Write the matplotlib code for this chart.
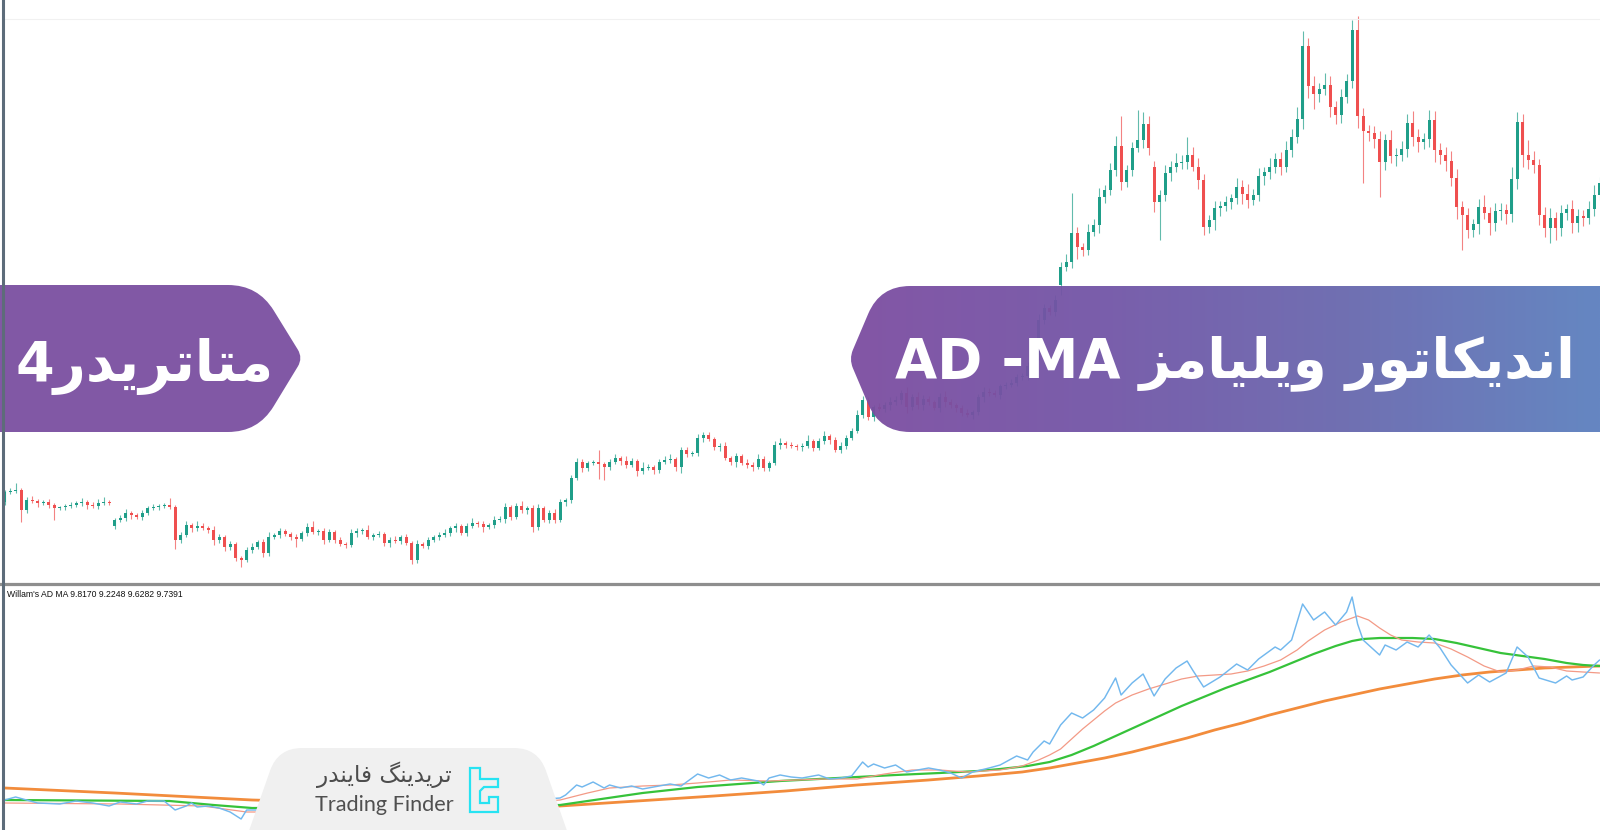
import numpy as np
import matplotlib
matplotlib.use("Agg")
import matplotlib.pyplot as plt
from matplotlib.path import Path
from matplotlib.patches import PathPatch
from matplotlib.lines import Line2D
from matplotlib import font_manager
from matplotlib.ft2font import FT2Font
from matplotlib.colors import LinearSegmentedColormap

W, H = 1600, 830

# ---------------- price data (arbitrary price units) ----------------
first_open = 98
gap_opens = {20: 74, 192: 315, 209: 433}
closes = [
    108, 109, 110, 90, 100, 99, 97, 98, 95, 92, 93, 94, 95, 97, 98, 95, 94, 97, 98, 97,
    80, 82, 87, 85, 83, 87, 92, 93, 94, 95, 93, 60, 65, 75, 72, 74, 72, 70, 60, 63,
    53, 56, 42, 40, 50, 53, 58, 47, 63, 65, 69, 66, 63, 61, 67, 73, 68, 69, 60, 68,
    60, 56, 55, 67, 69, 70, 63, 65, 66, 57, 60, 59, 63, 57, 40, 56, 54, 60, 63, 65,
    67, 72, 74, 67, 74, 77, 76, 73, 75, 80, 81, 93, 83, 94, 90, 92, 73, 92, 80, 87,
    80, 98, 100, 122, 138, 132, 137, 138, 136,
    133, 138, 142, 139, 135, 139, 129, 132, 133, 130, 138, 140, 141, 133, 150, 146, 147, 162, 165, 161, 153,
    154, 142, 138, 144, 137, 135, 133, 141, 132, 137, 155, 157, 155, 154, 153, 154, 159, 152, 159, 164,
    160, 150, 154, 162, 169, 185, 200,
    183, 193, 191, 195, 198, 200, 207, 193, 203, 195, 201, 198, 192, 203, 198, 195, 192, 187, 185, 188,
    203, 208, 207, 205, 214, 215, 217, 223, 224, 234, 245, 280, 292, 288, 300,
    333, 338, 367, 353, 350, 368, 375, 403, 410, 430,
    454, 418, 430, 452, 460, 476, 452, 398, 405, 427,
    433, 437, 438, 445, 433, 420, 373, 380, 392, 394,
    398, 402, 413, 406, 400, 405, 424, 428, 433, 441,
    433, 450, 463, 481, 554, 514, 506, 511, 515, 493,
    485, 503, 519, 570, 484, 469, 467, 461, 438, 460,
    444, 445, 451, 477, 463, 458, 461, 480, 450, 445,
    439, 422, 393, 385, 370, 376, 393, 387, 377, 389,
    390, 386, 421, 478, 445, 440, 435, 385, 372, 382,
    372, 387, 391, 377, 384, 382, 391, 405, 417,
]
upper_wick = [
    2, 3, 7, 2, 3, 4, 2, 2, 3, 2, 1, 2, 3, 2, 4, 2, 3, 4, 5, 2,
    2, 3, 4, 2, 2, 3, 2, 3, 2, 2, 7, 2, 3, 4, 2, 5, 3, 2, 4, 3,
    2, 3, 2, 2, 3, 4, 2, 3, 5, 2, 3, 2, 2, 3, 2, 4, 6, 2, 3, 3,
    2, 3, 2, 4, 3, 2, 5, 2, 3, 2, 3, 4, 2, 3, 2, 4, 2, 3, 2, 3,
    4, 2, 3, 2, 3, 5, 2, 3, 2, 4, 3, 4, 2, 3, 5, 2, 3, 4, 2, 3,
    4, 3, 2, 3, 4, 3, 2, 2, 12,
    2, 3, 4, 2, 5, 3, 2, 6, 3, 2, 3, 4, 5, 2, 3, 3, 2, 4, 3, 3, 2,
    3, 4, 2, 3, 2, 4, 3, 5, 3, 2, 4, 5, 2, 3, 2, 3, 6, 2, 3, 5, 2, 3, 4, 3, 3, 5, 4,
    3, 2, 4, 3, 5, 4, 3, 6, 3, 5, 4, 3, 2, 4, 6, 3, 2, 3, 4, 2,
    3, 5, 4, 3, 2, 3, 4, 3, 3, 4, 3, 6, 4, 3, 5,
    5, 8, 40, 6, 4, 8, 6, 9, 5, 7,
    10, 30, 5, 6, 30, 12, 8, 6, 5, 8,
    6, 10, 7, 18, 8, 9, 6, 5, 7, 5,
    6, 4, 9, 7, 10, 6, 8, 5, 9, 6,
    7, 9, 8, 12, 15, 8, 10, 6, 12, 9,
    6, 8, 7, 10, 14, 8, 6, 7, 8, 6,
    10, 7, 8, 9, 12, 8, 6, 10, 9, 7,
    8, 10, 9, 6, 7, 5, 8, 12, 6, 8,
    7, 6, 12, 10, 8, 15, 9, 6, 8, 10,
    6, 8, 5, 9, 7, 6, 8, 10, 6,
]
lower_wick = [
    3, 2, 2, 12, 3, 2, 4, 2, 3, 12, 2, 3, 2, 2, 3, 4, 2, 3, 2, 2,
    3, 2, 3, 4, 2, 3, 2, 2, 3, 2, 2, 9, 3, 2, 4, 3, 2, 3, 5, 3,
    4, 3, 3, 7, 2, 3, 2, 4, 3, 2, 3, 2, 3, 8, 2, 3, 2, 3, 4, 2,
    3, 2, 3, 2, 4, 3, 2, 3, 2, 3, 4, 2, 3, 2, 4, 3, 2, 3, 2, 3,
    2, 3, 4, 2, 3, 2, 3, 5, 2, 3, 2, 4, 3, 2, 3, 4, 5, 3, 2, 3,
    3, 2, 4, 3, 2, 4, 3, 2, 15,
    13, 3, 2, 4, 3, 2, 5, 3, 2, 4, 3, 2, 3, 4, 6, 3, 2, 3, 4, 2, 3,
    4, 2, 3, 5, 2, 3, 4, 2, 3, 3, 2, 4, 3, 2, 3, 4, 2, 3, 2, 3, 4, 2, 3, 3, 2, 2, 3,
    3, 4, 2, 3, 5, 3, 4, 6, 3, 4, 5, 3, 2, 4, 5, 3, 4, 3, 2, 4,
    3, 5, 3, 2, 4, 3, 2, 3, 3, 4, 6, 5, 4, 3, 4,
    10, 4, 6, 12, 6, 5, 4, 8, 6, 5,
    6, 8, 5, 6, 4, 8, 7, 10, 38, 6,
    8, 5, 6, 7, 4, 9, 8, 6, 10, 8,
    5, 7, 6, 10, 8, 5, 6, 9, 7, 6,
    8, 5, 7, 6, 10, 12, 15, 8, 6, 10,
    9, 8, 6, 7, 12, 52, 8, 9, 35, 8,
    7, 10, 6, 8, 9, 10, 7, 8, 12, 9,
    10, 8, 12, 35, 8, 7, 10, 6, 12, 8,
    9, 10, 8, 10, 12, 9, 8, 10, 9, 15,
    12, 8, 7, 10, 9, 8, 6, 7, 5,
]

# ---------------- indicator data: (bar index, value) ----------------
ad_line = [(0, 30), (2, 33), (4, 30), (6, 27), (10, 26), (13, 29), (16, 27), (19, 24), (21, 28), (24, 26),
           (26, 29), (29, 29), (31, 20), (33, 24), (34, 27), (35, 23), (37, 24), (39, 22), (41, 18), (43, 11),
           (44, 20), (72, 20), (101, 32), (102, 35), (104, 45), (105, 43), (107, 48), (109, 42), (110, 45),
           (112, 42), (114, 44), (116, 41), (118, 43), (121, 46), (123, 44), (125, 52), (126, 56), (128, 52),
           (130, 55), (132, 50), (134, 52), (137, 49), (138, 45), (139, 52), (141, 55), (143, 53), (145, 52),
           (147, 54), (148, 55), (150, 51), (152, 52), (154, 54), (156, 68), (157, 63), (158, 66), (160, 62),
           (162, 65), (164, 58), (165, 59), (168, 62), (170, 60), (172, 57), (174, 52), (176, 58), (179, 62),
           (181, 65), (184, 74), (186, 70), (187, 78), (189, 89), (190, 86), (192, 105), (194, 117), (196, 112),
           (198, 120), (200, 132), (202, 152), (203, 135), (205, 147), (207, 156), (209, 134), (211, 151),
           (213, 162), (215, 169), (216, 160), (218, 143), (221, 153), (224, 166), (226, 160), (228, 171),
           (231, 183), (232, 180), (234, 190), (236, 226), (238, 210), (240, 218), (242, 205), (244, 218),
           (245, 233), (246, 206), (247, 190), (250, 175), (251, 185), (253, 180), (255, 188), (257, 183),
           (259, 195), (261, 182), (263, 165), (266, 147), (268, 155), (270, 148), (273, 157), (275, 183),
           (276, 178), (277, 173), (279, 152), (282, 147), (284, 154), (285, 150), (287, 153), (289, 165),
           (290, 170)]
ma_fast = [(0, 27), (21, 26), (36, 24), (44, 18), (72, 18), (101, 30), (106, 37), (110, 42), (116, 44),
           (121, 45), (126, 47), (132, 50), (139, 49), (149, 51), (155, 51), (160, 56), (165, 60), (170, 60),
           (175, 58), (181, 60), (185, 64), (188, 70), (190, 75), (192, 81), (194, 91), (196, 101), (198, 110),
           (200, 119), (202, 127), (205, 135), (208, 141), (211, 146), (214, 151), (217, 154), (220, 155),
           (223, 156), (226, 159), (229, 164), (232, 170), (235, 180), (237, 189), (240, 200), (243, 208),
           (246, 214), (248, 210), (250, 202), (252, 195), (254, 190), (257, 188), (260, 187), (263, 181),
           (266, 173), (269, 164), (272, 158), (275, 160), (278, 164), (281, 163), (284, 159), (287, 158),
           (290, 157)]
ma_mid = [(0, 30), (30, 29), (38, 25), (45, 22), (72, 22), (101, 25), (106, 29), (111, 33), (116, 37),
          (121, 40), (126, 43), (131, 45), (136, 47), (141, 49), (148, 51), (155, 53), (162, 55), (170, 57),
          (177, 59), (181, 61), (186, 64), (190, 68), (194, 75), (198, 84), (202, 94), (206, 104), (210, 114),
          (214, 124), (218, 133), (222, 142), (226, 150), (230, 158), (234, 167), (238, 176), (242, 184),
          (245, 189), (247, 191), (250, 192), (256, 192), (260, 191), (264, 187), (268, 182), (272, 177),
          (276, 174), (280, 171), (284, 167), (287, 165), (290, 164)]
ma_slow = [(0, 42), (20, 37), (45, 30), (72, 26), (101, 24), (115, 29), (129, 34), (142, 39), (155, 45),
           (168, 50), (177, 54), (185, 58), (190, 62), (195, 67), (200, 72), (205, 78), (210, 85), (215, 92),
           (220, 100), (225, 107), (230, 115), (235, 122), (240, 129), (245, 135), (250, 141), (255, 146),
           (260, 151), (265, 155), (270, 158), (275, 160), (280, 162), (285, 163), (290, 164)]

indicator_label = "Willam's AD MA 9.8170 9.2248 9.6282 9.7391"
title_persian = "اندیکاتور ویلیامز"
title_latin = "AD -MA"
badge_text = "متاتریدر4"
logo_persian = "تریدینگ فایندر"
logo_latin = "Trading Finder"

# ---------------- layout / style constants ----------------
X0, DX = 4.6, 5.5            # pixel position of bar 0 and bar spacing
PRICE_TOP = 600              # price level at the very top of the price pane
GREEN, RED = "#1f9e89", "#ef4f4f"

# ---------------- Persian shaping helpers ----------------
FORMS = {
    'ا': [(0xFE8D, 0xFE8E, None, None)],
    'د': [(0xFEA9, 0xFEAA, None, None)],
    'ر': [(0xFEAD, 0xFEAE, None, None)],
    'ز': [(0xFEAF, 0xFEB0, None, None)],
    'و': [(0xFEED, 0xFEEE, None, None)],
    'ت': [(0xFE95, 0xFE96, 0xFE97, 0xFE98)],
    'ن': [(0xFEE5, 0xFEE6, 0xFEE7, 0xFEE8)],
    'ل': [(0xFEDD, 0xFEDE, 0xFEDF, 0xFEE0)],
    'م': [(0xFEE1, 0xFEE2, 0xFEE3, 0xFEE4)],
    'ف': [(0xFED1, 0xFED2, 0xFED3, 0xFED4)],
    'ی': [(0xFBFC, 0xFBFD, 0xFBFE, 0xFBFF), (0xFEEF, 0xFEF0, 0xFEF3, 0xFEF4)],
    'ک': [(0xFB8E, 0xFB8F, 0xFB90, 0xFB91), (0xFED9, 0xFEDA, 0xFEDB, 0xFEDC)],
    'گ': [(0xFB92, 0xFB93, 0xFB94, 0xFB95), (0xFED9, 0xFEDA, 0xFEDB, 0xFEDC)],
}
DUAL = set('تنلمفیکگ')


def glyph_checker(prop):
    f = FT2Font(font_manager.findfont(prop))
    return lambda cp: f.get_char_index(cp) != 0


def shape_rtl(text, has):
    out = []
    for k, ch in enumerate(text):
        if ch not in FORMS:
            out.append(ch)
            continue
        forms = next((fs for fs in FORMS[ch] if all(has(c) for c in fs if c)), FORMS[ch][-1])
        prev = text[k - 1] if k > 0 else ''
        nxt = text[k + 1] if k + 1 < len(text) else ''
        cp = prev in DUAL
        cn = ch in DUAL and nxt in FORMS
        if cp and cn:
            f = forms[3]
        elif cp:
            f = forms[1]
        elif cn:
            f = forms[2]
        else:
            f = forms[0]
        out.append(chr(f) if (f and has(f)) else ch)
    return ''.join(reversed(out))


def pick_prop(weight):
    prop = font_manager.FontProperties(family='DejaVu Sans', weight=weight)
    has = glyph_checker(prop)
    if not all(has(c) for fs in FORMS.values() for c in fs[-1] if c):
        prop = font_manager.FontProperties(family='DejaVu Sans', weight='normal')
        has = glyph_checker(prop)
    return prop, has


def rounded_path(pts, radii):
    verts, codes = [], []
    n = len(pts)
    for k in range(n):
        p = np.array(pts[k], float)
        a = np.array(pts[k - 1], float)
        b = np.array(pts[(k + 1) % n], float)
        r = radii[k]
        if r <= 0:
            verts.append(p)
            codes.append(Path.LINETO)
        else:
            u1 = (a - p) / np.linalg.norm(a - p)
            u2 = (b - p) / np.linalg.norm(b - p)
            verts += [p + u1 * r, p, p + u2 * r]
            codes += [Path.LINETO, Path.CURVE3, Path.CURVE3]
    codes[0] = Path.MOVETO
    verts.append(verts[0])
    codes.append(Path.CLOSEPOLY)
    return Path(verts, codes)


# ---------------- figure ----------------
fig = plt.figure(figsize=(W / 100, H / 100), dpi=100, facecolor='white')
xlim = ((5 - X0) / DX, (W - X0) / DX)

ax = fig.add_axes([5 / W, (H - 583) / H, (W - 5) / W, 583 / H])
ax.set_xlim(*xlim)
ax.set_ylim(PRICE_TOP - 583, PRICE_TOP)
ax.axis('off')

n = len(closes)
assert n == len(upper_wick) == len(lower_wick), (n, len(upper_wick), len(lower_wick))
idx = np.arange(n)
c = np.array(closes, float)
o = np.r_[first_open, c[:-1]]
for k, v in gap_opens.items():
    o[k] = v
hi = np.maximum(o, c) + np.array(upper_wick, float)
lo = np.minimum(o, c) - np.array(lower_wick, float)
colors = np.where(c >= o, GREEN, RED)
ax.vlines(idx, lo, hi, colors=colors, linewidth=0.8, alpha=0.7)
ax.bar(idx, np.maximum(np.abs(c - o), 1.0), bottom=np.minimum(o, c), width=0.58,
       color=colors, linewidth=0)

# indicator pane
ax2 = fig.add_axes([5 / W, 0, (W - 5) / W, (H - 586) / H])
ax2.set_xlim(*xlim)
ax2.set_ylim(0, H - 586)
ax2.axis('off')
for pts, col, lw, z in [(ma_slow, '#f28c3c', 2.0, 2), (ma_mid, '#36c23a', 1.6, 3),
                        (ma_fast, '#f39a86', 0.9, 4), (ad_line, '#72b8ee', 1.05, 5)]:
    xs, ys = zip(*pts)
    ax2.plot(xs, ys, color=col, lw=lw, zorder=z, solid_joinstyle='round', solid_capstyle='round')

# overlay in pixel coordinates
ov = fig.add_axes([0, 0, 1, 1], zorder=10)
ov.set_xlim(0, W)
ov.set_ylim(H, 0)
ov.axis('off')
ov.patch.set_alpha(0)

# frame lines
ov.add_line(Line2D([5, W], [19, 19], color='#f1f1f1', lw=0.8))
ov.add_line(Line2D([0, W], [584, 584], color='#8e8e8e', lw=2.3))
ov.add_line(Line2D([3, 3], [0, H], color='#5d6c7a', lw=2.2))

# left badge
lp = rounded_path([(-20, 285), (258, 285), (303, 358), (258, 432), (-20, 432)], [0, 30, 10, 30, 0])
ov.add_patch(PathPatch(lp, facecolor='#7a4fa0', edgecolor='none', alpha=0.95))

# right banner with gradient
rp = rounded_path([(1620, 286), (880, 286), (849, 359), (880, 432), (1620, 432)], [0, 30, 10, 30, 0])
clip = PathPatch(rp, facecolor='none', edgecolor='none', transform=ov.transData)
ov.add_patch(clip)
cmap = LinearSegmentedColormap.from_list('banner', ['#7c4da0', '#7355a7', '#6868ae', '#5d80bf'])
grad = np.linspace(0, 1, 256).reshape(1, -1)
im = ov.imshow(grad, cmap=cmap, extent=(849, W, 432, 286), aspect='auto', alpha=0.95,
               interpolation='bilinear', zorder=2)
im.set_clip_path(clip)
ov.set_xlim(0, W)
ov.set_ylim(H, 0)

renderer = fig.canvas.get_renderer()


def fit(t, target_w):
    w = t.get_window_extent(renderer).width
    t.set_fontsize(t.get_fontsize() * target_w / w)


bold_prop, bold_has = pick_prop('bold')
t1 = ov.text(1235, 377, title_latin + ' ' + shape_rtl(title_persian, bold_has), color='white',
             fontproperties=bold_prop, fontsize=40, ha='center', va='baseline', zorder=3)
fit(t1, 680)
t2 = ov.text(145, 381, shape_rtl(badge_text, bold_has), color='white',
             fontproperties=bold_prop, fontsize=40, ha='center', va='baseline', zorder=3)
fit(t2, 258)

# indicator label
t3 = ov.text(7, 597, indicator_label, color='#111111', family=['Liberation Sans', 'DejaVu Sans'],
             fontsize=7, ha='left', va='baseline')
fit(t3, 176)

# logo box
bp = rounded_path([(244, 845), (278, 748), (538, 748), (572, 845)], [0, 24, 24, 0])
ov.add_patch(PathPatch(bp, facecolor='#f0f0f0', edgecolor='none', zorder=2))
reg_prop, reg_has = pick_prop('light')
t4 = ov.text(384, 782, shape_rtl(logo_persian, reg_has), color='#4d4d4d', fontproperties=reg_prop,
             fontsize=12, ha='center', va='baseline', zorder=3)
fit(t4, 135)
t5 = ov.text(384, 811, logo_latin, color='#505050', family=['Lato', 'DejaVu Sans'], weight='normal',
             fontsize=12, ha='center', va='baseline', zorder=3)
fit(t5, 138)
icon = [(470, 768), (480, 768), (480, 779), (498, 779), (498, 787), (484, 787), (480, 791),
        (480, 803), (489, 803), (489, 797), (498, 797), (498, 812), (470, 812)]
ov.add_patch(PathPatch(Path(icon + [icon[0]], closed=True), facecolor='none',
                       edgecolor='#27e3f2', lw=1.6, zorder=3, joinstyle='miter'))

fig.savefig('out.png', dpi=100, facecolor='white')
